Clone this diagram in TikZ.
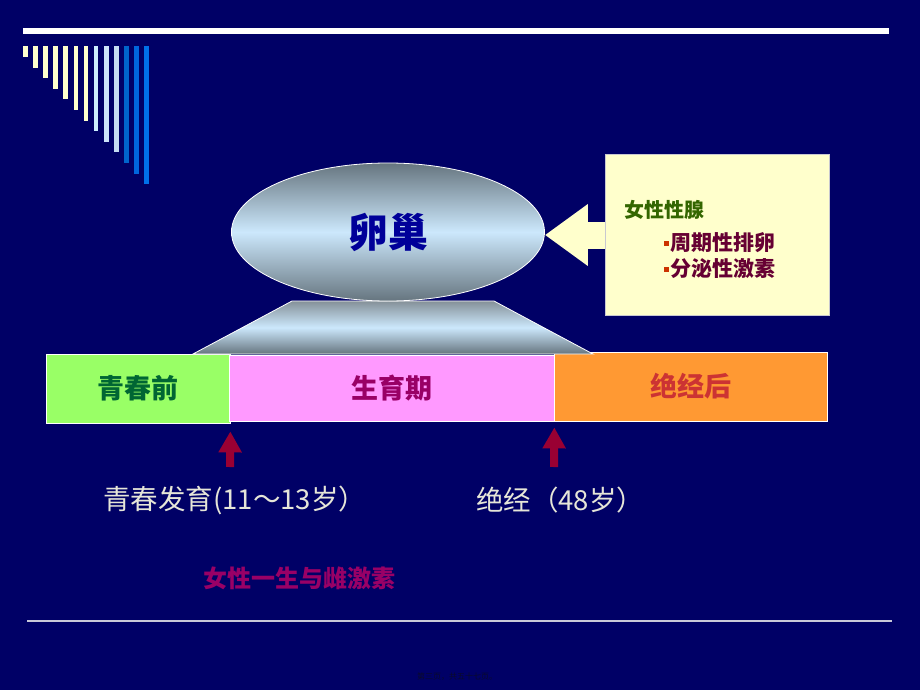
\documentclass[tikz,border=0pt]{standalone}
\usepackage{fontspec}
\newfontfamily\cjk{Noto Sans CJK SC}
\usetikzlibrary{shapes.geometric,arrows.meta}
\definecolor{bg}{HTML}{000066}
\definecolor{sy}{HTML}{FFFFCC}
\definecolor{lb1}{HTML}{CCEEFF}
\definecolor{lb2}{HTML}{CCE4FA}
\definecolor{lb3}{HTML}{C4DCF2}
\definecolor{db1}{HTML}{0064CC}
\definecolor{db2}{HTML}{0066DD}
\definecolor{db3}{HTML}{0070EA}
\definecolor{ovgray}{HTML}{66757F}
\definecolor{ovlight}{HTML}{CCE8FC}
\definecolor{ovtext}{HTML}{000099}
\definecolor{cream}{HTML}{FFFFCC}
\definecolor{boxline}{HTML}{C8C8D0}
\definecolor{gtext}{HTML}{336600}
\definecolor{mtext}{HTML}{660033}
\definecolor{bullet}{HTML}{CC3300}
\definecolor{gbar}{HTML}{99FF66}
\definecolor{pbar}{HTML}{FF99FF}
\definecolor{obar}{HTML}{FF9933}
\definecolor{gbartext}{HTML}{006633}
\definecolor{pbartext}{HTML}{990066}
\definecolor{obartext}{HTML}{CC3333}
\definecolor{darkred}{HTML}{990033}
\definecolor{emboss}{HTML}{E6E6D8}
\definecolor{lgray}{HTML}{C8C8D8}
\definecolor{foot}{HTML}{0A0A2A}
\begin{document}
\begin{tikzpicture}[x=1pt,y=-1pt,
  barbox/.style={draw=white, line width=0.8pt, inner sep=0pt, font=\cjk\bfseries\fontsize{27}{27}\selectfont},
  redarrow/.style={darkred, line width=8pt, -{Triangle[width=22pt,length=21pt]}},
  cjkbig/.style={font=\cjk\fontsize{27.5}{27.5}\selectfont, text=emboss, inner sep=0pt},
  listtext/.style={font=\cjk\bfseries\fontsize{21}{21}\selectfont, text=mtext, inner sep=0pt, anchor=west}]
\fill[bg] (0,0) rectangle (920,690);
\useasboundingbox (0,0) rectangle (920,690);
% top rule
\fill[white] (23,28) rectangle (889,34);
% stripes
\foreach \i/\c in {0/sy,1/sy,2/sy,3/sy,4/sy,5/sy,6/sy,7/lb1,8/lb2,9/lb3,10/db1,11/db2,12/db3}
  \fill[\c] ({23+10.1*\i},46) rectangle ++(4.7,{11+10.6*\i});
% bars
\node[barbox, fill=gbar, text=gbartext, minimum width=184pt, minimum height=69pt] (pre) at (138,388.5) {青春前};
\node[barbox, fill=pbar, text=pbartext, minimum width=325pt, minimum height=66pt] (fert) at (391.5,388) {生育期};
\node[barbox, fill=obar, text=obartext, minimum width=273pt, minimum height=69pt] (post) at (690.5,386.5) {绝经后};
% pedestal
\path[draw=white, line width=0.8pt, top color=ovgray!80!white, bottom color=ovgray, middle color=ovlight]
  (292,301) -- (494,301) -- (593,354) -- (193,354) -- cycle;
% ovary
\node[ellipse, draw=white, line width=0.8pt, minimum width=313pt, minimum height=138pt, inner sep=0pt,
  top color=ovgray, bottom color=ovgray, middle color=ovlight,
  font=\cjk\bfseries\fontsize{40}{40}\selectfont, text=ovtext] (ovary) at (388,232) {卵巢};
% gland box
\node[draw=boxline, line width=0.8pt, fill=cream, minimum width=224pt, minimum height=161pt, inner sep=0pt] (gland) at (717,235) {};
\draw[cream, line width=27pt, -{Triangle[width=59pt,length=43pt]}] (gland.west) -- (gland.west -| ovary.east);
\node[font=\cjk\bfseries\fontsize{20}{20}\selectfont, text=gtext, inner sep=0pt, anchor=west] (fx) at (624,210) {女性性腺};
\node[fill=bullet, minimum size=5pt, inner sep=0pt] (b1) at (666,243) {};
\node[listtext] (l1) at (670,243) {周期性排卵};
\node[fill=bullet, minimum size=5pt, inner sep=0pt] (b2) at (666,269) {};
\node[listtext] (l2) at (670,269) {分泌性激素};
% red arrows
\coordinate (a1) at (230,467);
\coordinate (a2) at (554,467);
\draw[redarrow, shorten >=8pt] (a1) -- (pre.south east);
\draw[redarrow, shorten >=6pt] (a2) -- (fert.south east);
% labels
\node[cjkbig, anchor=west] (puberty) at (103,500) {青春发育(11～13岁）};
\node[cjkbig, anchor=west] (meno) at (476,500) {绝经（48岁）};
\node[font=\cjk\bfseries\fontsize{24}{24}\selectfont, text=pbartext, inner sep=0pt, anchor=west] (title) at (203,578) {女性一生与雌激素};
% bottom rule
\draw[lgray, line width=1.2pt] (27,621) -- (892,621);
\node[font=\cjk\fontsize{8}{8}\selectfont, text=foot, inner sep=0pt] (footer) at (457,677) {第三页，共五十七页。};
\end{tikzpicture}
\end{document}
